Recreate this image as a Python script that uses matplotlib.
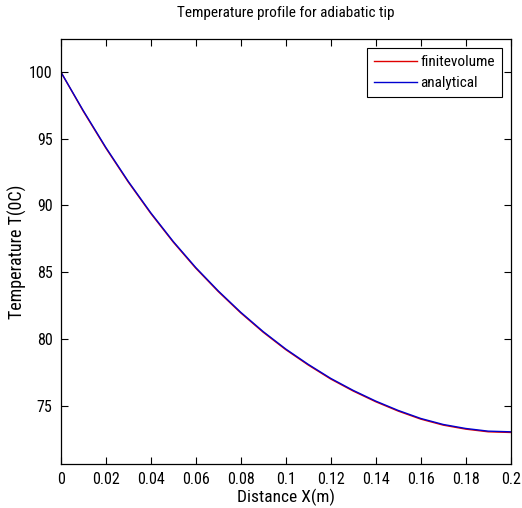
import matplotlib
matplotlib.use("Agg")
import matplotlib.pyplot as plt

# Values
x_vals = [0.0, 0.01, 0.02, 0.03, 0.04, 0.05, 0.06, 0.07, 0.08, 0.09, 0.10,
          0.11, 0.12, 0.13, 0.14, 0.15, 0.16, 0.17, 0.18, 0.19, 0.20]
analytical = [100.0, 97.1, 94.35, 91.8, 89.45, 87.3, 85.35, 83.6, 82.0, 80.55, 79.25,
              78.1, 77.05, 76.15, 75.35, 74.65, 74.05, 73.6, 73.3, 73.1, 73.05]
finitevolume = [100.0, 97.05, 94.3, 91.75, 89.4, 87.25, 85.3, 83.55, 81.95, 80.5, 79.2,
                78.05, 77.0, 76.1, 75.3, 74.6, 74.0, 73.55, 73.25, 73.05, 73.0]

x_ticks = [0, 0.02, 0.04, 0.06, 0.08, 0.1, 0.12, 0.14, 0.16, 0.18, 0.2]
x_ticklabels = ["0", "0.02", "0.04", "0.06", "0.08", "0.1", "0.12", "0.14", "0.16", "0.18", "0.2"]
y_ticks = [75, 80, 85, 90, 95, 100]

plt.rcParams["font.family"] = ["Roboto Condensed", "DejaVu Sans"]

fig = plt.figure(figsize=(5.22, 5.08), dpi=100)
ax = fig.add_axes([0.1163, 0.0866, 0.8621, 0.8366])

ax.plot(x_vals, finitevolume, color="#e00000", linewidth=1.0, label="finitevolume")
ax.plot(x_vals, analytical, color="#0000d0", linewidth=1.0, label="analytical")

ax.set_xlim(0, 0.2)
ax.set_ylim(70.64, 102.45)
ax.set_xticks(x_ticks)
ax.set_xticklabels(x_ticklabels)
ax.set_yticks(y_ticks)
ax.tick_params(direction="in", top=True, right=True, length=5, width=0.8,
               labelsize=11.5, colors="black", pad=6)
for s in ax.spines.values():
    s.set_linewidth(0.9)

ax.set_title("Temperature profile for adiabatic tip", fontsize=11, pad=16)
ax.set_xlabel("Distance X(m)", fontsize=12.5, labelpad=1)
ax.set_ylabel("Temperature T(0C)", fontsize=13, labelpad=1)

leg = ax.legend(loc="upper right", fontsize=11, fancybox=False, framealpha=1,
                edgecolor="black", borderaxespad=0.6, handlelength=2.8,
                handletextpad=0.2, borderpad=0.45, labelspacing=0.45)
leg.get_frame().set_linewidth(0.8)

fig.savefig("out.png", dpi=100)
